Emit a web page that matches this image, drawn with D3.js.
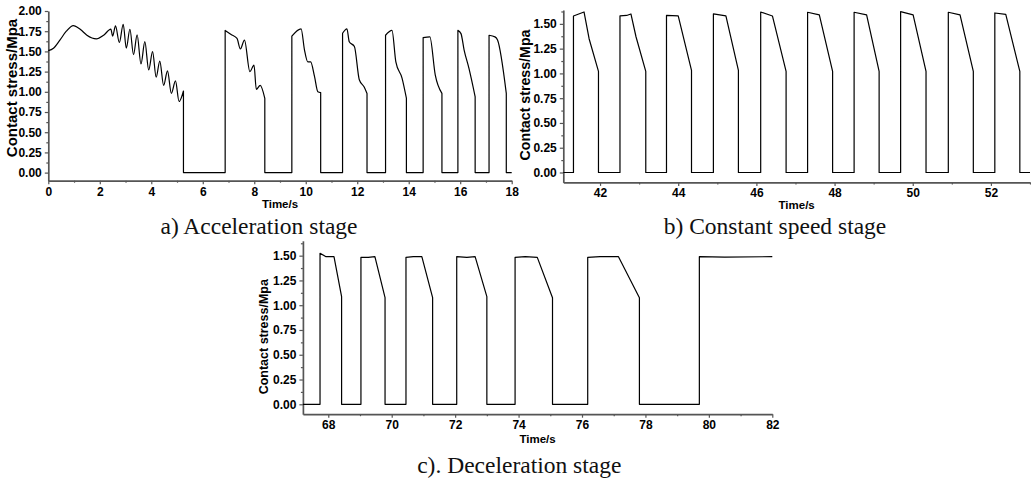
<!DOCTYPE html>
<html><head><meta charset="utf-8">
<script src="https://cdn.jsdelivr.net/npm/d3@7"></script>
<style>
body{margin:0;background:#fff;}
svg{display:block;}
</style></head><body>
<svg id="chart" width="1031" height="480"></svg>
<script>
// ---------- data ----------
const accelTime = [0,0.2,0.45,0.7,0.97,1.25,1.5,1.87,2.15,2.43,2.5,2.61,2.76,2.91,3.03,3.17,3.31,3.45,3.6,3.75,3.9,4.05,4.19,4.33,4.48,4.63,4.78,4.94,5.08,5.25,
  5.25,6.87,
  6.87,7.1,7.33,7.46,7.62,7.83,7.99,8.08,8.23,8.41,
  8.41,9.46,
  9.46,9.82,9.95,10.08,10.19,10.34,10.47,10.58,
  10.58,11.43,
  11.43,11.6,11.69,11.89,12.08,12.27,12.38,
  12.38,13.1,
  13.1,13.35,13.5,13.74,13.91,
  13.91,14.56,
  14.56,14.82,15.03,15.29,
  15.29,15.91,
  15.91,16.03,16.15,16.34,16.58,
  16.58,17.12,
  17.12,17.35,17.45,17.79,
  17.79,18];
const accelStress = [1.51,1.54,1.64,1.75,1.82,1.77,1.70,1.655,1.70,1.775,1.69,1.815,1.61,1.836,1.54,1.774,1.46,1.704,1.345,1.62,1.27,1.497,1.18,1.38,1.08,1.26,0.98,1.135,0.88,1.01,
  0,0,
  1.76,1.71,1.66,1.53,1.64,1.25,1.33,1.03,1.08,0.92,
  0,0,
  1.69,1.78,1.52,1.37,1.37,1.19,1.0,0.99,
  0,0,
  1.725,1.78,1.62,1.56,1.15,1.06,0.98,
  0,0,
  1.70,1.76,1.37,1.17,0.92,
  0,0,
  1.67,1.68,1.21,0.98,
  0,0,
  1.76,1.72,1.52,1.29,0.94,
  0,0,
  1.70,1.68,1.64,0.98,
  0,0];

const constTime = [41.06,41.32, 41.32,41.59,41.72,41.96, 41.96,42.51,
  42.51,42.68,42.79,42.92,43.17, 43.17,43.70,
  43.70,44.0,44.34, 44.34,44.90,
  44.90,45.22,45.54, 45.54,46.11,
  46.11,46.41,46.76, 46.76,47.31,
  47.31,47.61,47.95, 47.95,48.50,
  48.50,48.82,49.14, 49.14,49.69,
  49.69,50.01,50.34, 50.34,50.91,
  50.91,51.21,51.55, 51.55,52.10,
  52.10,52.38,52.74, 52.74,53];
const constStress = [0,0, 1.58,1.62,1.35,1.02, 0,0,
  1.58,1.585,1.60,1.37,1.02, 0,0,
  1.585,1.58,1.03, 0,0,
  1.60,1.58,1.03, 0,0,
  1.62,1.58,1.02, 0,0,
  1.617,1.59,1.02, 0,0,
  1.617,1.59,1.02, 0,0,
  1.624,1.59,1.02, 0,0,
  1.617,1.59,1.02, 0,0,
  1.61,1.595,1.02, 0,0];

const decelTime = [67.2,67.74, 67.74,67.93,68.18,68.42, 68.42,69.03,
  69.03,69.26,69.47,69.79, 69.79,70.45,
  70.45,70.68,70.95,71.29, 71.29,72.05,
  72.05,72.37,72.63,73.0, 73.0,73.89,
  73.89,74.21,74.59,75.07, 75.07,76.18,
  76.18,76.57,77.15,77.81, 77.81,79.70,
  79.70,80.5,82];
const decelStress = [0,0, 1.524,1.49,1.49,1.086, 0,0,
  1.483,1.483,1.49,1.076, 0,0,
  1.483,1.49,1.49,1.076, 0,0,
  1.49,1.483,1.49,1.086, 0,0,
  1.483,1.49,1.483,1.076, 0,0,
  1.483,1.49,1.49,1.076, 0,0,
  1.49,1.485,1.49];

const accelXTicks = [0,2,4,6,8,10,12,14,16,18];
const accelXMinor = [1,3,5,7,9,11,13,15,17];
const accelYTicks = [0,0.25,0.5,0.75,1.0,1.25,1.5,1.75,2.0];
const accelYMinor = [0.125,0.375,0.625,0.875,1.125,1.375,1.625,1.875];

const constXTicks = [42,44,46,48,50,52];
const constXMinor = [43,45,47,49,51,53];
const constYTicks = [0,0.25,0.5,0.75,1.0,1.25,1.5];
const constYMinor = [0.125,0.375,0.625,0.875,1.125,1.375,1.625];

const decelXTicks = [68,70,72,74,76,78,80,82];
const decelXMinor = [69,71,73,75,77,79,81];
const decelYTicks = [0,0.25,0.5,0.75,1.0,1.25,1.5];
const decelYMinor = [0.125,0.375,0.625,0.875,1.125,1.375,1.625];

const yTitle = "Contact stress/Mpa";
const xTitle = "Time/s";
const captions = ["a) Acceleration stage", "b) Constant speed stage", "c). Deceleration stage"];

// ---------- drawing ----------
const svg = d3.select("#chart");
const SANS = "'Liberation Sans', Arial, sans-serif";
const SERIF = "'Liberation Serif', 'Times New Roman', serif";
const AXIS_COLOR = "#555555";

const panels = [
  {time: accelTime, stress: accelStress, xd: [0,18], xr: [48.3,511.7], yd: [-0.1,2.0], yr: [180.7,11],
   xt: accelXTicks, xm: accelXMinor, yt: accelYTicks, ym: accelYMinor, curve: d3.curveMonotoneX,
   ytx: 11.5, yty: 88, ytSize: 15, xty: 208, cap: captions[0], capX: 259, capY: 234},
  {time: constTime, stress: constStress, xd: [41.06,53], xr: [563.3,1030], yd: [-0.1,1.64], yr: [182.4,10],
   xt: constXTicks, xm: constXMinor, yt: constYTicks, ym: constYMinor, curve: d3.curveLinear,
   ytx: 525, yty: 95, ytSize: 14.2, xty: 209, cap: captions[1], capX: 775, capY: 234},
  {time: decelTime, stress: decelStress, xd: [67.2,82], xr: [302.9,772.3], yd: [-0.1,1.65], yr: [414.2,240.8],
   xt: decelXTicks, xm: decelXMinor, yt: decelYTicks, ym: decelYMinor, curve: d3.curveLinear,
   ytx: 264, yty: 336.7, ytSize: 12.5, xty: 443, cap: captions[2], capX: 519.3, capY: 473}
];

function buildPath(times, stresses, x, y, curve) {
  const pts = times.map((t, i) => [t, stresses[i]]);
  const pieces = [];
  let cur = [pts[0]];
  for (let i = 1; i < pts.length; i++) {
    if (pts[i][0] === pts[i-1][0]) { pieces.push(cur); cur = [pts[i]]; }
    else cur.push(pts[i]);
  }
  pieces.push(cur);
  const line = d3.line().x(d => x(d[0])).y(d => y(d[1])).curve(curve);
  return pieces.map((p, i) => {
    let s = line(p).replace(/Z$/, "");
    return i ? "L" + s.slice(1) : s;
  }).join("");
}

panels.forEach(p => {
  const x = d3.scaleLinear().domain(p.xd).range(p.xr);
  const y = d3.scaleLinear().domain(p.yd).range(p.yr);
  const g = svg.append("g");

  // minor ticks
  const xMinor = g.append("g").attr("transform", `translate(0,${p.yr[0]})`)
    .call(d3.axisBottom(x).tickValues(p.xm).tickSize(2).tickSizeOuter(0).tickFormat(""));
  const yMinor = g.append("g").attr("transform", `translate(${p.xr[0]},0)`)
    .call(d3.axisLeft(y).tickValues(p.ym).tickSize(2).tickSizeOuter(0).tickFormat(""));
  // major axes
  const xAxis = g.append("g").attr("transform", `translate(0,${p.yr[0]})`)
    .call(d3.axisBottom(x).tickValues(p.xt).tickSize(3.5).tickSizeOuter(0).tickPadding(3).tickFormat(d3.format("d")));
  const yAxis = g.append("g").attr("transform", `translate(${p.xr[0]},0)`)
    .call(d3.axisLeft(y).tickValues(p.yt).tickSize(3.5).tickSizeOuter(0).tickPadding(3).tickFormat(d3.format(".2f")));

  [xMinor, yMinor, xAxis, yAxis].forEach(a => {
    a.select(".domain").attr("stroke", AXIS_COLOR).attr("stroke-width", 1.7);
    a.selectAll(".tick line").attr("stroke", AXIS_COLOR).attr("stroke-width", 1.2);
    a.selectAll(".tick text").attr("fill", "#000").style("font-family", SANS)
      .style("font-weight", "bold").style("font-size", "12px");
  });
  [xMinor, yMinor].forEach(a => a.select(".domain").remove());

  // data line
  g.append("path")
    .attr("d", buildPath(p.time, p.stress, x, y, p.curve))
    .attr("fill", "none").attr("stroke", "#000").attr("stroke-width", 1.2)
    .attr("stroke-linejoin", "round");

  // titles
  g.append("text")
    .attr("transform", `translate(${p.ytx},${p.yty}) rotate(-90)`)
    .attr("text-anchor", "middle").attr("dominant-baseline", "central")
    .style("font-family", SANS).style("font-weight", "bold").style("font-size", p.ytSize + "px")
    .text(yTitle);
  g.append("text")
    .attr("x", (p.xr[0] + p.xr[1]) / 2).attr("y", p.xty)
    .attr("text-anchor", "middle")
    .style("font-family", SANS).style("font-weight", "bold").style("font-size", "11.5px")
    .text(xTitle);
  svg.append("text")
    .attr("x", p.capX).attr("y", p.capY).attr("text-anchor", "middle")
    .style("font-family", SERIF).style("font-size", "23.5px").attr("fill", "#111")
    .text(p.cap);
});
</script>
</body></html>
